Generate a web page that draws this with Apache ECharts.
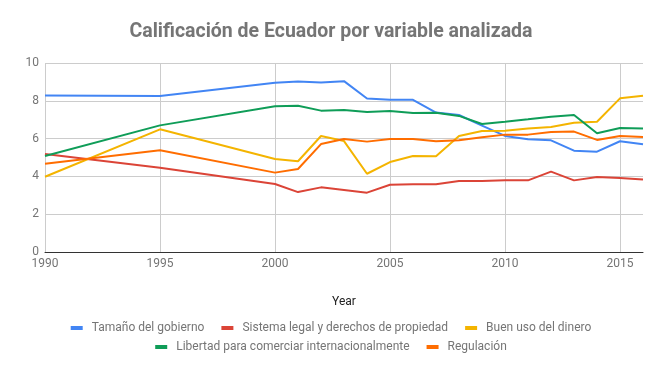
<!DOCTYPE html>
<html>
<head>
<meta charset="utf-8">
<script src="https://cdn.jsdelivr.net/npm/echarts@6/dist/echarts.min.js"></script>
<style>html,body{margin:0;padding:0;background:#fff}#c{width:662px;height:371px}</style>
</head>
<body>
<div id="c"></div>
<script>
var years = [1990, 1995, 2000, 2001, 2002, 2003, 2004, 2005, 2006, 2007, 2008, 2009, 2010, 2011, 2012, 2013, 2014, 2015, 2016];
var tamanoGobierno = [8.28, 8.25, 8.95, 9.02, 8.97, 9.04, 8.12, 8.06, 8.05, 7.38, 7.25, 6.69, 6.14, 5.96, 5.91, 5.36, 5.31, 5.86, 5.70];
var sistemaLegal = [5.19, 4.46, 3.60, 3.17, 3.42, 3.28, 3.14, 3.56, 3.58, 3.58, 3.76, 3.76, 3.79, 3.79, 4.25, 3.79, 3.97, 3.92, 3.83];
var buenUsoDinero = [3.98, 6.49, 4.92, 4.80, 6.14, 5.87, 4.14, 4.76, 5.08, 5.06, 6.14, 6.40, 6.42, 6.53, 6.61, 6.84, 6.89, 8.13, 8.27];
var libertadComercio = [5.08, 6.70, 7.71, 7.74, 7.48, 7.51, 7.41, 7.46, 7.35, 7.37, 7.20, 6.77, 6.89, 7.02, 7.16, 7.25, 6.28, 6.56, 6.53];
var regulacion = [4.67, 5.38, 4.20, 4.39, 5.71, 5.98, 5.84, 5.98, 5.98, 5.86, 5.91, 6.07, 6.21, 6.21, 6.35, 6.37, 5.93, 6.14, 6.08];

var names = ['Tamaño del gobierno', 'Sistema legal y derechos de propiedad', 'Buen uso del dinero', 'Libertad para comerciar internacionalmente', 'Regulación'];
var colors = ['#4285f4', '#db4437', '#f4b400', '#0f9d58', '#ff6d00'];
var values = [tamanoGobierno, sistemaLegal, buenUsoDinero, libertadComercio, regulacion];

function pairs(v) { return years.map(function (y, i) { return [y, v[i]]; }); }

var chart = echarts.init(document.getElementById('c'), null, {renderer: 'canvas'});
var legendCommon = {
  icon: 'rect', itemWidth: 12, itemHeight: 4, itemGap: 17,
  textStyle: {color: '#757575', fontSize: 12, fontFamily: 'Roboto', padding: [0, 0, 0, 4]},
  left: 'center'
};
chart.setOption({
  animation: false,
  color: colors,
  title: {
    text: 'Calificación de Ecuador por variable analizada',
    left: 'center', top: 17,
    textStyle: {color: '#757575', fontSize: 19.5, fontWeight: 'bold', fontFamily: 'Roboto'}
  },
  legend: [
    Object.assign({}, legendCommon, {data: names.slice(0, 3), top: 317}),
    Object.assign({}, legendCommon, {data: names.slice(3), top: 336})
  ],
  grid: {left: 45, right: 19, top: 63, bottom: 119},
  xAxis: {
    type: 'value', min: 1990, max: 2016, interval: 5,
    name: 'Year', nameLocation: 'middle', nameGap: 44,
    nameTextStyle: {color: '#222', fontSize: 12, fontFamily: 'Roboto'},
    axisLine: {show: true, onZero: false, lineStyle: {color: '#333', width: 1}},
    axisTick: {show: false},
    axisLabel: {color: '#757575', fontSize: 12, fontFamily: 'Roboto', showMaxLabel: false, margin: 6,
      formatter: function (v) { return String(v); }},
    splitLine: {show: true, showMaxLine: false, lineStyle: {color: '#cccccc'}}
  },
  yAxis: {
    type: 'value', min: 0, max: 10, interval: 2,
    axisLine: {show: false}, axisTick: {show: false},
    axisLabel: {color: '#757575', fontSize: 12, fontFamily: 'Roboto', margin: 6},
    splitLine: {lineStyle: {color: '#cccccc'}}
  },
  series: values.map(function (v, i) {
    return {
      name: names[i], type: 'line', data: pairs(v), showSymbol: false, symbol: 'none',
      lineStyle: {width: 2, color: colors[i]}, itemStyle: {color: colors[i]}
    };
  })
});
</script>
</body>
</html>
